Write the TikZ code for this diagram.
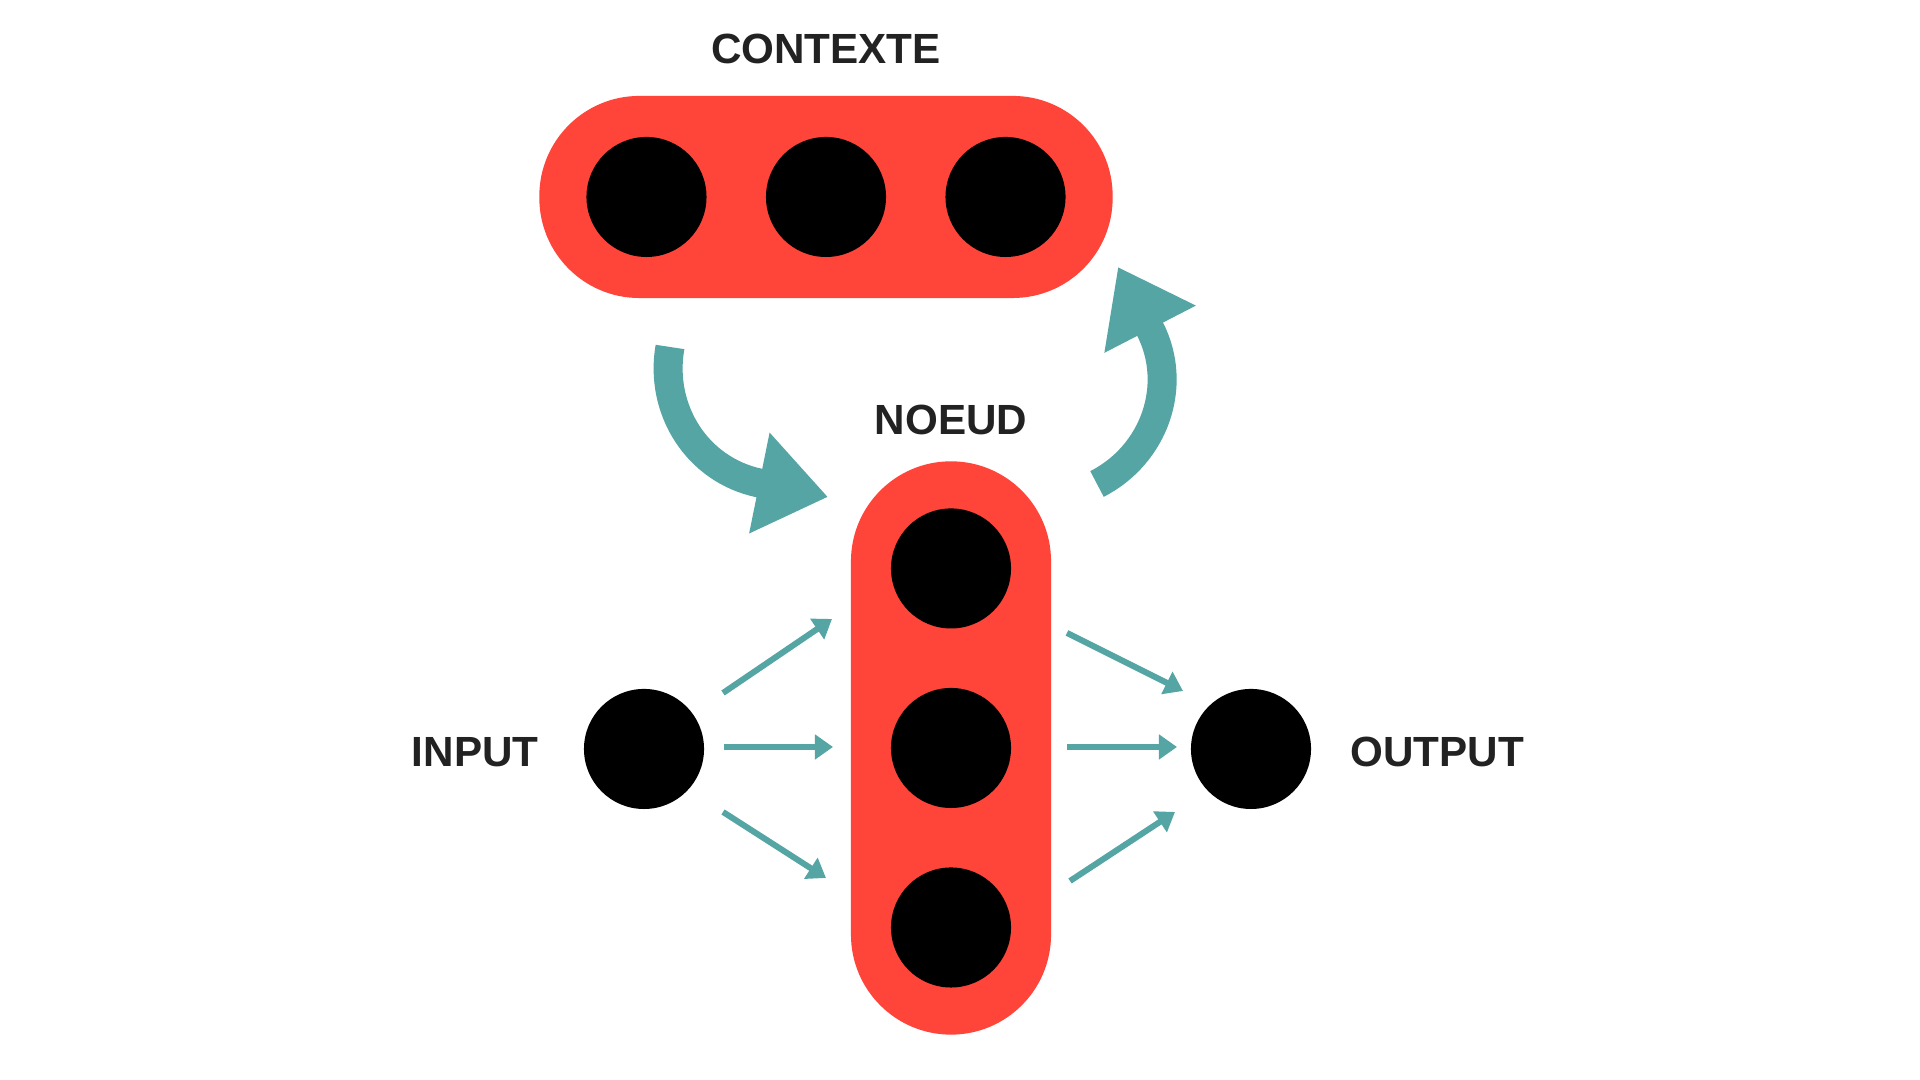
\documentclass[tikz,border=0pt]{standalone}
\usepackage{fontspec}
\setmainfont{Liberation Sans}
\usetikzlibrary{arrows.meta,positioning}
\definecolor{boxred}{HTML}{FF453A}
\definecolor{flowteal}{HTML}{55A5A5}
\definecolor{labgray}{HTML}{222222}

\begin{document}
\begin{tikzpicture}[x=0.01cm,y=0.01cm,
  box/.style={fill=boxred,rounded corners=1cm,inner sep=0pt},
  dot/.style={circle,fill=black,minimum size=1.2cm,inner sep=0pt},
  lbl/.style={font=\fontsize{12}{14}\selectfont\bfseries,text=labgray,inner sep=0pt},
  flow/.style={flowteal,line width=0.06cm,-{Triangle[length=0.18cm,width=0.24cm]}},
  bigflow/.style={flowteal,line width=0.29cm,-{Triangle[length=0.7cm,width=0.98cm]}}]

  \fill[white] (0,0) rectangle (1920,1080);
  \useasboundingbox (0,0) rectangle (1920,1080);

  % contexte
  \node[box,minimum width=5.73cm,minimum height=2.02cm] (ctx) at (826,883) {};
  \node[dot] (c2) at (ctx) {};
  \node[dot,left=0.58cm of c2] (c1) {};
  \node[dot,right=0.58cm of c2] (c3) {};
  \node[lbl] (ctxlab) at (826,1031) {CONTEXTE};

  % noeud
  \node[box,minimum width=2cm,minimum height=5.73cm] (noeud) at (951,332) {};
  \node[dot] (n2) at (noeud) {};
  \node[dot,above=0.58cm of n2] (n1) {};
  \node[dot,below=0.58cm of n2] (n3) {};
  \node[lbl] (noeudlab) at (951,660) {NOEUD};

  % input / output
  \node[dot] (in) at (644,331) {};
  \node[lbl,left=0.44cm of in,yshift=-0.03cm] (inlab) {INPUT};
  \node[dot] (out) at (1251,331) {};
  \node[lbl,right=0.38cm of out,yshift=-0.03cm] (outlab) {OUTPUT};

  \coordinate (i1) at (723,387);  \coordinate (j1) at (832,461);
  \coordinate (i2) at (724,333);  \coordinate (j2) at (833,333);
  \coordinate (i3) at (723,268);  \coordinate (j3) at (826,202);
  \coordinate (o1) at (1067,447); \coordinate (p1) at (1183,389);
  \coordinate (o2) at (1067,333); \coordinate (p2) at (1177,333);
  \coordinate (o3) at (1070,199); \coordinate (p3) at (1175,268);

  \draw[flow] (i1) -- (j1);
  \draw[flow] (i2) -- (j2);
  \draw[flow] (i3) -- (j3);
  \draw[flow] (o1) -- (p1);
  \draw[flow] (o2) -- (p2);
  \draw[flow] (o3) -- (p3);

  % boucle contexte
  \coordinate (ctxout) at (670,733);
  \coordinate (ctxbend) at (759,597);
  \coordinate (noeudin) at (828,583);
  \coordinate (noeudout) at (1097,596);
  \coordinate (noeudbend) at (1150,751);
  \coordinate (ctxin) at (1118,813);

  \draw[bigflow] (ctxout) to[out=260,in=168] (ctxbend) -- (noeudin);
  \draw[bigflow] (noeudout) to[out=27,in=297] (noeudbend) -- (ctxin);

\end{tikzpicture}
\end{document}
